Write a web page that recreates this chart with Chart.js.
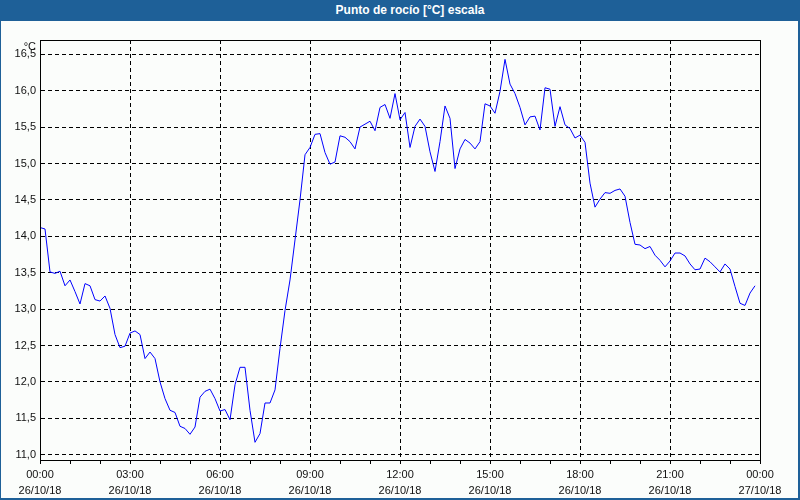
<!DOCTYPE html>
<html>
<head>
<meta charset="utf-8">
<script src="https://cdn.jsdelivr.net/npm/chart.js@4/dist/chart.umd.min.js"></script>
<style>
  html, body { margin: 0; padding: 0; }
  body { width: 800px; height: 500px; overflow: hidden; background: #fbfdfb; }
  #wrap { position: relative; width: 800px; height: 500px; }
  #c { position: absolute; left: 0; top: 0; }
  #bar { position: absolute; left: 0; top: 0; width: 800px; height: 21px; background: #1e6098;
         color: #ffffff; font: bold 12px "Liberation Sans", Arial, sans-serif; line-height: 21px;
         text-align: center; }
  #bar span { position: relative; left: 10px; }
  #frame { position: absolute; left: 0; top: 0; width: 797px; height: 498px;
           border-left: 1px solid #1e6098; border-right: 2px solid #1e6098; border-bottom: 2px solid #1e6098;
           pointer-events: none; }
</style>
</head>
<body>
<div id="wrap">
  <canvas id="c" width="800" height="500"></canvas>
  <div id="bar"><span>Punto de rocío [°C] escala</span></div>
  <div id="frame"></div>
</div>
<script>
// Minutes after 26/10/18 00:00, sampled every 10 minutes
const minutes = Array.from({length: 144}, (_, i) => i * 10);
const dewPoint = [
  14.12, 14.10, 13.51, 13.49, 13.52, 13.32, 13.40, 13.24, 13.07, 13.35,
  13.32, 13.13, 13.11, 13.18, 13.01, 12.65, 12.47, 12.49, 12.67, 12.70,
  12.65, 12.32, 12.41, 12.32, 12.00, 11.77, 11.61, 11.58, 11.39, 11.36,
  11.28, 11.38, 11.79, 11.87, 11.90, 11.77, 11.60, 11.62, 11.48, 11.96,
  12.20, 12.20, 11.61, 11.17, 11.29, 11.71, 11.71, 11.89, 12.46, 12.98,
  13.40, 13.95, 14.50, 15.12, 15.22, 15.40, 15.41, 15.15, 14.99, 15.02,
  15.38, 15.36, 15.30, 15.20, 15.50, 15.54, 15.58, 15.45, 15.77, 15.81,
  15.62, 15.96, 15.60, 15.70, 15.22, 15.51, 15.61, 15.51, 15.16, 14.89,
  15.30, 15.79, 15.62, 14.93, 15.20, 15.33, 15.28, 15.20, 15.30, 15.82,
  15.79, 15.69, 15.99, 16.43, 16.09, 15.96, 15.77, 15.53, 15.64, 15.65,
  15.46, 16.04, 16.02, 15.51, 15.78, 15.53, 15.48, 15.35, 15.39, 15.29,
  14.73, 14.40, 14.51, 14.60, 14.59, 14.63, 14.65, 14.55, 14.19, 13.89,
  13.88, 13.83, 13.86, 13.74, 13.67, 13.58, 13.66, 13.77, 13.77, 13.73,
  13.62, 13.54, 13.55, 13.70, 13.65, 13.58, 13.51, 13.62, 13.55, 13.31,
  13.08, 13.05, 13.22, 13.32
];
const yTicks = [11.0, 11.5, 12.0, 12.5, 13.0, 13.5, 14.0, 14.5, 15.0, 15.5, 16.0, 16.5];
const xTickMinutes = [0, 180, 360, 540, 720, 900, 1080, 1260, 1440];
const xTickLabels = [
  ["00:00", "26/10/18"], ["03:00", "26/10/18"], ["06:00", "26/10/18"],
  ["09:00", "26/10/18"], ["12:00", "26/10/18"], ["15:00", "26/10/18"],
  ["18:00", "26/10/18"], ["21:00", "26/10/18"], ["00:00", "27/10/18"]
];
const unitLabel = "°C";

const FONT = { family: '"Liberation Sans", Arial, sans-serif', size: 11, lineHeight: 1.45 };
const TXT = '#111111';

const framePlugin = {
  id: 'framePlugin',
  afterDatasetsDraw(chart) {
    const a = chart.chartArea, ctx = chart.ctx;
    ctx.save();
    ctx.strokeStyle = '#000';
    ctx.lineWidth = 1;
    ctx.setLineDash([]);
    ctx.strokeRect(Math.round(a.left) + 0.5, Math.round(a.top) + 0.5,
                   Math.round(a.right - a.left), Math.round(a.bottom - a.top));
    ctx.fillStyle = TXT;
    ctx.font = '11px "Liberation Sans", Arial, sans-serif';
    ctx.textAlign = 'right';
    ctx.textBaseline = 'top';
    ctx.fillText(unitLabel, a.left - 4, a.top + 1);
    ctx.restore();
  }
};

new Chart(document.getElementById('c'), {
  type: 'line',
  data: {
    datasets: [{
      data: minutes.map((m, i) => ({ x: m, y: dewPoint[i] })),
      borderColor: '#0000ff',
      borderWidth: 1,
      pointRadius: 0,
      tension: 0,
      fill: false
    }]
  },
  options: {
    responsive: false,
    animation: false,
    devicePixelRatio: 1,
    layout: { padding: { top: 40, right: 40, left: 0, bottom: 0 } },
    plugins: { legend: { display: false }, tooltip: { enabled: false }, title: { display: false } },
    scales: {
      x: {
        type: 'linear',
        min: 0,
        max: 1440,
        afterBuildTicks(scale) {
          const t = [];
          for (let m = 0; m <= 1440; m += 60) t.push({ value: m });
          scale.ticks = t;
        },
        afterFit(scale) { scale.height = 40; },
        ticks: {
          autoSkip: false,
          maxRotation: 0,
          padding: 3,
          color: TXT,
          font: FONT,
          callback(v) {
            const k = xTickMinutes.indexOf(v);
            return k >= 0 ? xTickLabels[k] : '';
          }
        },
        grid: {
          color(ctx) {
            const v = ctx.tick && ctx.tick.value;
            return (v % 180 === 0 && v > 0 && v < 1440) ? '#000' : 'rgba(0,0,0,0)';
          },
          lineWidth: 1,
          drawTicks: true,
          tickLength: 4,
          tickColor: '#000',
          tickBorderDash: []
        },
        border: { display: true, color: '#000', dash: [4, 3] }
      },
      y: {
        type: 'linear',
        min: 10.927,
        max: 16.696,
        afterBuildTicks(scale) { scale.ticks = yTicks.map(v => ({ value: v })); },
        afterFit(scale) { scale.width = 40; },
        ticks: {
          padding: 4,
          color: TXT,
          font: { family: FONT.family, size: 11 },
          callback(v) { return Number(v).toFixed(1).replace('.', ','); }
        },
        grid: { color: '#000', lineWidth: 1, drawTicks: false },
        border: { display: true, color: '#000', dash: [4, 3] }
      }
    }
  },
  plugins: [framePlugin]
});
</script>
</body>
</html>
